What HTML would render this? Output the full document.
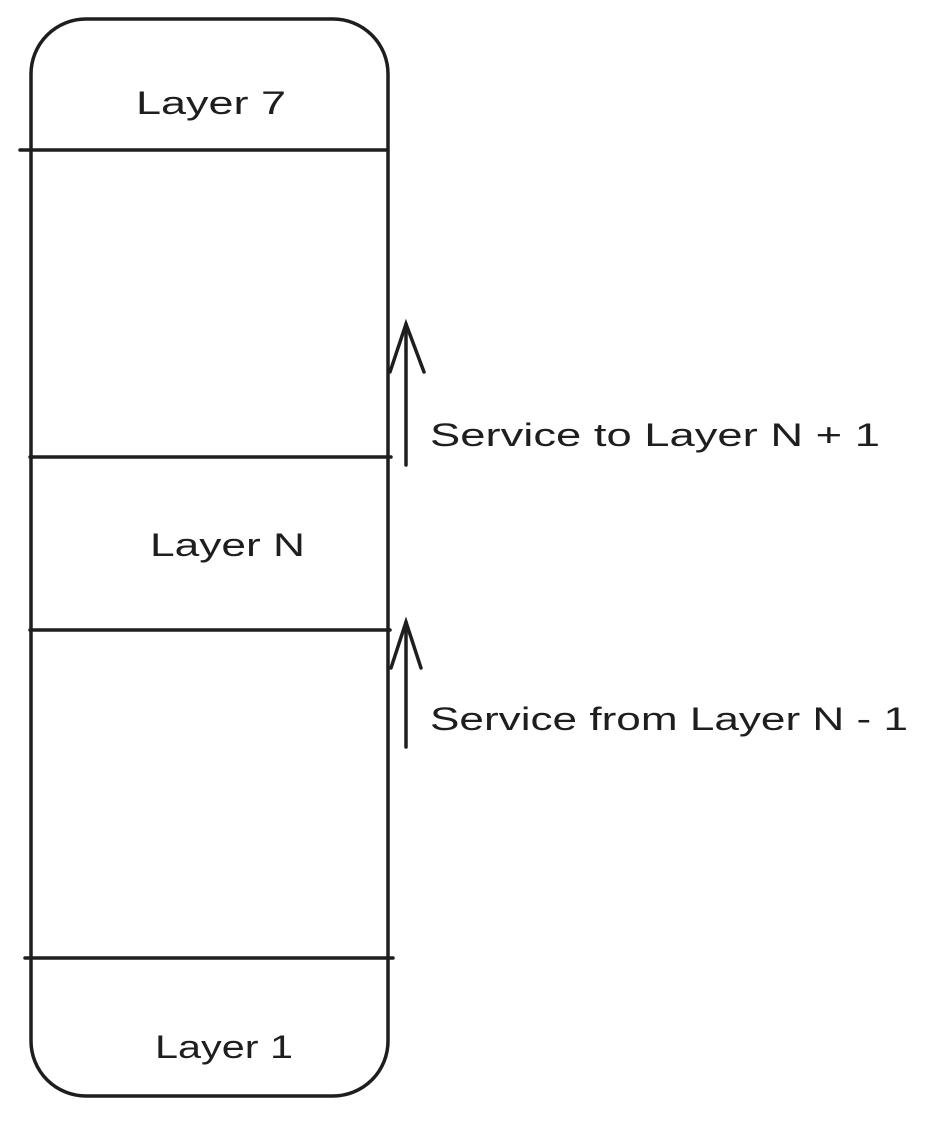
<!DOCTYPE html>
<html><head><style>html,body{margin:0;padding:0;background:#fff;}</style></head>
<body>
<svg width="929" height="1116" viewBox="0 0 929 1116" xmlns="http://www.w3.org/2000/svg">
<g fill="none" stroke="#1e1e1e" stroke-width="3.5" stroke-linecap="round">
<rect x="31" y="19" width="357" height="1077" rx="55" ry="55"/>
<line x1="20" y1="150" x2="386" y2="150"/>
<line x1="30" y1="457" x2="391" y2="457"/>
<line x1="30" y1="630" x2="390" y2="630"/>
<line x1="25" y1="958" x2="393" y2="958"/>
<line x1="406" y1="465" x2="406" y2="324"/>
<polyline points="390,372 406,324 424,372"/>
<line x1="406" y1="747" x2="406" y2="622"/>
<polyline points="391,668 406,622 421,668"/>
</g>
<g font-family="Liberation Sans, sans-serif" font-size="32" fill="#1e1e1e">
<text x="136" y="114" textLength="150" lengthAdjust="spacingAndGlyphs">Layer 7</text>
<text x="150" y="556" textLength="155" lengthAdjust="spacingAndGlyphs">Layer N</text>
<text x="155" y="1058" textLength="138" lengthAdjust="spacingAndGlyphs">Layer 1</text>
<text x="430" y="446" textLength="450" lengthAdjust="spacingAndGlyphs">Service to Layer N + 1</text>
<text x="430" y="730" textLength="478" lengthAdjust="spacingAndGlyphs">Service from Layer N - 1</text>
</g>
</svg>
</body></html>
